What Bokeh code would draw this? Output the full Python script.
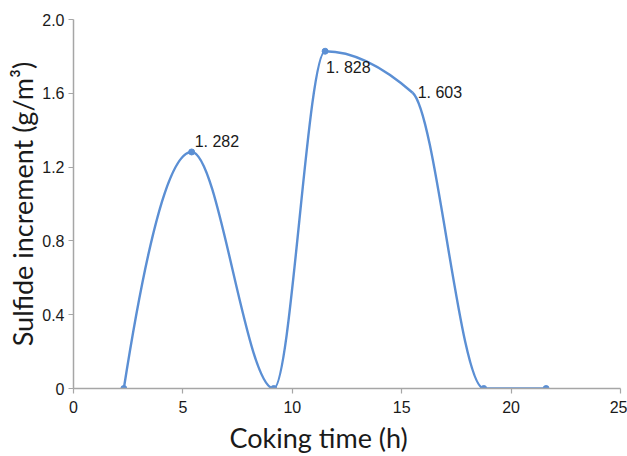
import numpy as np
from bokeh.plotting import figure
from bokeh.models import ColumnDataSource, Label, FixedTicker, Range1d, Title
from bokeh.embed import file_html
from bokeh.resources import INLINE

# Coking time (h) and sulfide increment (g/m3)
coking_time = [2.3, 5.4, 9.15, 11.5, 15.5, 18.75, 21.6]
sulfide_increment = [0.0, 1.282, 0.0, 1.828, 1.603, 0.0, 0.0]
show_marker = [True, True, True, True, False, True, True]

labelled_idx = [1, 3, 4]
label_text = ["1. 282", "1. 828", "1. 603"]

x_ticks = [0, 5, 10, 15, 20, 25]
y_ticks = [0, 0.4, 0.8, 1.2, 1.6, 2.0]
y_tick_labels = ["0", "0.4", "0.8", "1.2", "1.6", "2.0"]

LINE = "#5b8fd4"
NUM_FONT = "Liberation Sans"
TITLE_FONT = "Lato"

x = np.array(coking_time, dtype=float)
y = np.array(sulfide_increment, dtype=float)

# Monotone (Fritsch-Carlson) tangents for a smooth curve through the points
h = np.diff(x)
d = np.diff(y) / h
m = np.zeros_like(x)
for k in range(1, len(x) - 1):
    if d[k - 1] * d[k] > 0:
        w1 = 2 * h[k] + h[k - 1]
        w2 = h[k] + 2 * h[k - 1]
        m[k] = (w1 + w2) / (w1 / d[k - 1] + w2 / d[k])
m0 = ((2 * h[0] + h[1]) * d[0] - h[0] * d[1]) / (h[0] + h[1])
if m0 * d[0] <= 0:
    m0 = 0.0
elif abs(m0) > 3 * abs(d[0]):
    m0 = 3 * d[0]
m[0] = m0
m[-1] = 0.0

seg = ColumnDataSource(dict(
    x0=x[:-1], y0=y[:-1], x1=x[1:], y1=y[1:],
    cx0=x[:-1] + h / 3, cy0=y[:-1] + m[:-1] * h / 3,
    cx1=x[1:] - h / 3, cy1=y[1:] - m[1:] * h / 3,
))

p = figure(width=627, height=456, output_backend="svg", toolbar_location=None,
           x_range=Range1d(0, 25), y_range=Range1d(0, 2.0),
           min_border_left=73, min_border_right=7, min_border_top=19, min_border_bottom=12)
p.outline_line_color = None
p.xgrid.visible = False
p.ygrid.visible = False
p.background_fill_color = "white"
p.border_fill_color = "white"

p.bezier(x0="x0", y0="y0", x1="x1", y1="y1", cx0="cx0", cy0="cy0", cx1="cx1", cy1="cy1",
         source=seg, line_color=LINE, line_width=2.4)

mx = [xv for xv, s in zip(coking_time, show_marker) if s]
my = [yv for yv, s in zip(sulfide_increment, show_marker) if s]
p.scatter(mx, my, size=6, color=LINE)

# Value labels
offsets = {1: (3, 2, "left", "bottom"), 3: (1, -8, "left", "top"), 4: (5, 0, "left", "middle")}
for i, txt in zip(labelled_idx, label_text):
    dx, dy, al, bl = offsets[i]
    p.add_layout(Label(x=coking_time[i], y=sulfide_increment[i], text=txt,
                       x_offset=dx, y_offset=dy, text_align=al, text_baseline=bl,
                       text_font=NUM_FONT, text_font_size="16px", text_color="#1a1a1a"))

for ax in (p.xaxis[0], p.yaxis[0]):
    ax.axis_line_color = "#a6a6a6"
    ax.axis_line_width = 1.5
    ax.major_tick_line_color = "#a6a6a6"
    ax.major_tick_line_width = 1.2
    ax.major_tick_out = 5
    ax.major_tick_in = 0
    ax.minor_tick_line_color = None
    ax.major_label_text_font = NUM_FONT
    ax.major_label_text_font_size = "16px"
    ax.major_label_text_color = "#1a1a1a"

p.xaxis.ticker = FixedTicker(ticks=x_ticks)
p.yaxis.ticker = FixedTicker(ticks=y_ticks)
p.yaxis.major_label_overrides = {t: s for t, s in zip(y_ticks, y_tick_labels)}
p.xaxis.major_label_standoff = 7
p.yaxis.major_label_standoff = 4

p.yaxis.axis_label = "Sulfide increment (g/m\u00b3)"
p.yaxis.axis_label_text_font = TITLE_FONT
p.yaxis.axis_label_text_font_size = "27px"
p.yaxis.axis_label_text_font_style = "normal"
p.yaxis.axis_label_text_color = "#1a1a1a"
p.yaxis.axis_label_standoff = 0

p.add_layout(Title(text="Coking time (h)", align="left", offset=156,
                   text_font=TITLE_FONT, text_font_size="27px", text_font_style="normal",
                   text_color="#1a1a1a", standoff=6), "below")

open("out.html", "w").write(file_html(p, INLINE))
